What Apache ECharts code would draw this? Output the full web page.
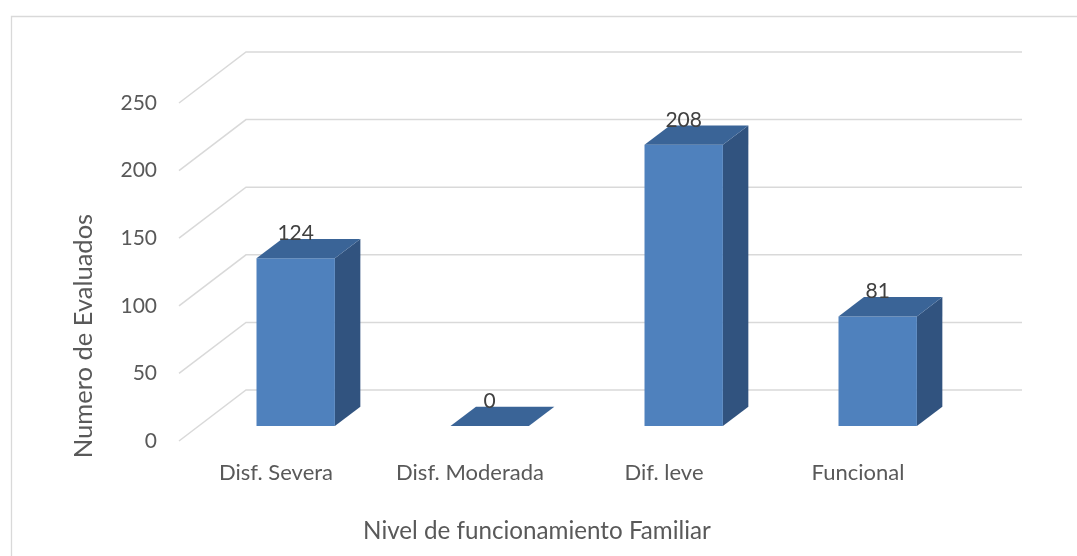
<!DOCTYPE html>
<html>
<head>
<meta charset="utf-8">
<script src="https://cdn.jsdelivr.net/npm/echarts@6/dist/echarts.min.js"></script>
<style>
  html, body { margin: 0; padding: 0; background: #ffffff; }
  #chart { width: 1077px; height: 556px; }
</style>
</head>
<body>
<div id="chart"></div>
<script>
// Distribución de evaluados según nivel de funcionamiento familiar
const categories = ['Disf. Severa', 'Disf. Moderada', 'Dif. leve', 'Funcional'];
const evaluados = [124, 0, 208, 81];
const yTicks = [0, 50, 100, 150, 200, 250];

const xTitle = 'Nivel de funcionamiento Familiar';
const yTitle = 'Numero de Evaluados';

// oblique projection of the depth axis (front plane -> back wall)
const DX = 67, DY = -51;
// bars sit between these depth fractions
const D0 = 0.294, D1 = 0.674;
const BAR_RATIO = 0.404;

const FONT = 'Lato';
const TEXT = '#595959';
const GRID = '#d9d9d9';
const FRONT = '#4f81bd';
const TOP = '#3a6497';
const SIDE = '#31537f';

const chart = echarts.init(document.getElementById('chart'), null, { renderer: 'canvas' });

function renderWalls(params, api) {
  const v = api.value(1);
  const cs = params.coordSys;
  const y = api.coord([0, v])[1];
  const x0 = cs.x, x1 = cs.x + cs.width;
  return {
    type: 'polyline',
    shape: { points: [[x0, y], [x0 + DX, y + DY], [x1 + DX, y + DY]] },
    style: { stroke: GRID, lineWidth: 1.5, fill: null },
    silent: true
  };
}

function renderBar(params, api) {
  const i = api.value(0);
  const v = api.value(1);
  const base = api.coord([i, 0]);
  const top = api.coord([i, v]);
  const band = api.size([1, 0])[0];
  const w = band * BAR_RATIO;
  const fx = D0 * DX, fy = D0 * DY;
  const dx = (D1 - D0) * DX, dy = (D1 - D0) * DY;
  const x = base[0] - w / 2 + fx;
  const y0 = base[1] + fy;
  const y1 = top[1] + fy;
  const children = [];
  if (y0 - y1 > 0.5) {
    children.push({
      type: 'polygon',
      shape: { points: [[x + w, y0], [x + w + dx, y0 + dy], [x + w + dx, y1 + dy], [x + w, y1]] },
      style: { fill: SIDE }
    });
    children.push({
      type: 'rect',
      shape: { x: x, y: y1, width: w, height: y0 - y1 },
      style: { fill: FRONT }
    });
  }
  children.push({
    type: 'polygon',
    shape: { points: [[x, y1], [x + dx, y1 + dy], [x + w + dx, y1 + dy], [x + w, y1]] },
    style: { fill: TOP }
  });
  children.push({
    type: 'text',
    style: {
      text: String(v),
      x: x + w / 2,
      y: y1 - 25,
      align: 'center',
      verticalAlign: 'middle',
      fill: '#404040',
      font: '21px ' + FONT
    }
  });
  return { type: 'group', children: children };
}

chart.setOption({
  animation: false,
  backgroundColor: '#ffffff',
  textStyle: { fontFamily: FONT },
  grid: { left: 179, right: 122, top: 103, bottom: 115, containLabel: false },
  xAxis: {
    type: 'category',
    data: categories,
    axisLine: { show: false },
    axisTick: { show: false },
    splitLine: { show: false },
    axisLabel: { color: TEXT, fontSize: 22, fontFamily: FONT, margin: 21 }
  },
  yAxis: {
    type: 'value',
    min: 0,
    max: 250,
    interval: 50,
    axisLine: { show: false },
    axisTick: { show: false },
    splitLine: { show: false },
    axisLabel: { color: TEXT, fontSize: 21, fontFamily: FONT, margin: 22 }
  },
  graphic: [
    {
      type: 'rect',
      shape: { x: 11.5, y: 16.5, width: 1080, height: 560 },
      style: { fill: null, stroke: GRID, lineWidth: 1.3 },
      silent: true,
      z: -10
    },
    {
      type: 'text',
      x: 84,
      y: 336,
      rotation: Math.PI / 2,
      style: {
        text: yTitle,
        align: 'center',
        verticalAlign: 'middle',
        fill: TEXT,
        font: '25.5px ' + FONT
      },
      silent: true
    },
    {
      type: 'text',
      x: 537,
      y: 531,
      style: {
        text: xTitle,
        align: 'center',
        verticalAlign: 'middle',
        fill: TEXT,
        font: '24.2px ' + FONT
      },
      silent: true
    }
  ],
  series: [
    {
      type: 'custom',
      renderItem: renderWalls,
      data: yTicks.map(v => [0, v]),
      encode: { x: 0, y: 1 },
      z: 1,
      silent: true
    },
    {
      type: 'custom',
      renderItem: renderBar,
      data: evaluados.map((v, i) => [i, v]),
      encode: { x: 0, y: 1 },
      z: 2,
      silent: true
    }
  ]
});
</script>
</body>
</html>
